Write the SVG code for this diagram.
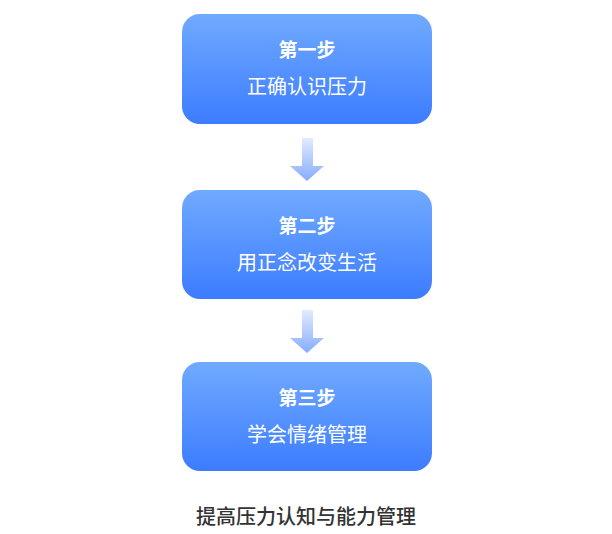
<svg xmlns="http://www.w3.org/2000/svg" width="612" height="534" viewBox="0 0 612 534">
<defs>
<linearGradient id="bg" x1="0" y1="0" x2="0" y2="1"><stop offset="0" stop-color="#70aaff"/><stop offset="1" stop-color="#3c7cff"/></linearGradient>
<linearGradient id="ag" x1="0" y1="0" x2="0" y2="1"><stop offset="0" stop-color="#e2ebff"/><stop offset="1" stop-color="#86acff"/></linearGradient>
<style>
.b{fill:url(#bg)}
.t{font-family:"Noto Sans CJK SC",sans-serif;fill:#fff;text-anchor:middle}
.h{font-size:19px;font-weight:bold}
.s{font-size:20px}
</style>
</defs>
<rect width="612" height="534" fill="#fff"/>
<g id="n1"><rect class="b" x="182" y="14" width="250" height="110" rx="18"/><text class="t h" x="307" y="57">第一步</text><text class="t s" x="307" y="94">正确认识压力</text></g>
<g id="n2"><rect class="b" x="182" y="190" width="250" height="109" rx="18"/><text class="t h" x="307" y="233">第二步</text><text class="t s" x="307" y="270">用正念改变生活</text></g>
<g id="n3"><rect class="b" x="182" y="362" width="250" height="109" rx="18"/><text class="t h" x="307" y="405">第三步</text><text class="t s" x="307" y="442">学会情绪管理</text></g>
<g id="connectors" fill="url(#ag)">
<path d="M302 138H313V166H324L307 181L290 166H302Z"/>
<path d="M302 310H313V338H324L307 353L290 338H302Z"/>
</g>
<text x="306" y="524" font-family="Noto Sans CJK SC,sans-serif" font-size="20" font-weight="500" fill="#333" text-anchor="middle">提高压力认知与能力管理</text>
</svg>
